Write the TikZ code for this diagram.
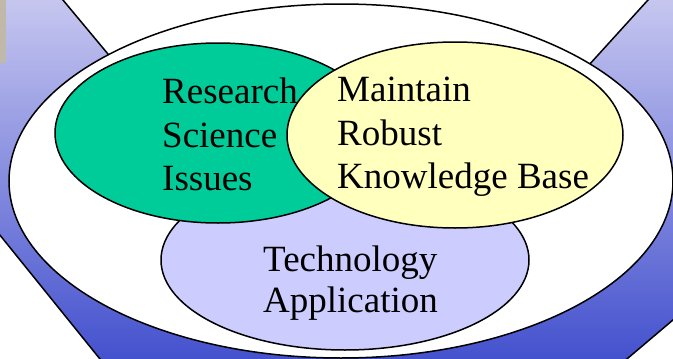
\documentclass[tikz,border=0pt]{standalone}
\usepackage{fontspec}
\setmainfont{Liberation Serif}
\usetikzlibrary{shapes.geometric}
\definecolor{bandtop}{RGB}{200,200,240}
\definecolor{bandbot}{RGB}{66,80,205}
\definecolor{greenfill}{RGB}{0,204,153}
\definecolor{yellowfill}{RGB}{255,255,190}
\definecolor{purplefill}{RGB}{204,204,255}
\definecolor{tanbox}{RGB}{192,184,168}
\tikzset{
  oval/.style={ellipse, draw=black, line width=1.5pt, inner sep=0pt},
  label text/.style={anchor=base west, inner sep=0pt, font=\fontsize{37}{44}\selectfont},
  edge line/.style={draw=black, line width=1.5pt},
}
\begin{document}
\begin{tikzpicture}[x=1pt,y=-1pt]
\useasboundingbox (0,0) rectangle (673,359);
\clip (0,0) rectangle (673,359);
% blue background band
\shade[top color=bandtop, bottom color=bandbot]
  (-5,-5) -- (58.8,-5) -- (343,336) -- (652.5,-5) -- (678,-5) -- (678,315.7)
  -- (621,364) -- (104,364) -- (-5,229) -- cycle;
\coordinate (l1a) at (58.8,-5);
\coordinate (l1b) at (343,336);
\coordinate (r1a) at (652.5,-5);
\coordinate (l2a) at (-5,229);
\coordinate (l2b) at (104,364);
\coordinate (r2a) at (678,315.7);
\coordinate (r2b) at (621,364);
\draw[edge line] (l1a) -- (l1b) -- (r1a);
\draw[edge line] (l2a) -- (l2b);
\draw[edge line] (r2a) -- (r2b);
% tan box
\fill[tanbox] (0,0) rectangle (6,63);
% ellipses
\node[oval, fill=white, minimum width=664pt, minimum height=354pt] (outer) at (341,181) {};
\node[oval, fill=purplefill, minimum width=368pt, minimum height=180pt] (tech) at (345,260) {};
\node[oval, fill=greenfill, minimum width=326pt, minimum height=180pt] (research) at (218,133) {};
\node[oval, fill=yellowfill, minimum width=336pt, minimum height=186pt] (maintain) at (455,135) {};
% texts
\node[label text] (t1) at (162,103) {Research};
\node[label text] (t2) at (162,147) {Science};
\node[label text] (t3) at (162,190) {Issues};
\node[label text] (t4) at (337,101) {Maintain};
\node[label text] (t5) at (337,145) {Robust};
\node[label text] (t6) at (337,188) {Knowledge Base};
\node[label text] (t7) at (263,271) {Technology};
\node[label text] (t8) at (263,312) {Application};
\end{tikzpicture}
\end{document}
